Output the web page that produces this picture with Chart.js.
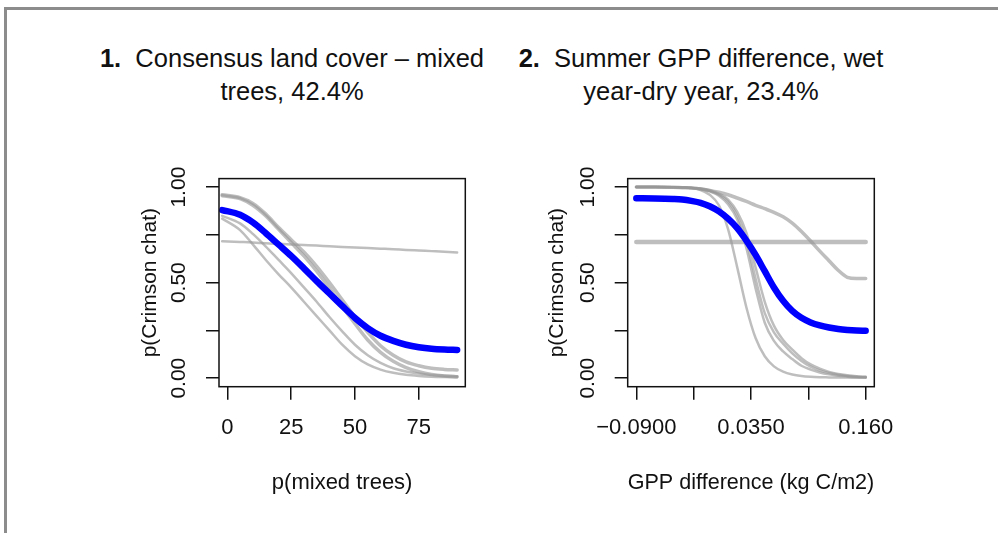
<!doctype html>
<html>
<head>
<meta charset="utf-8">
<title>p(Crimson chat)</title>
<script src="https://cdn.jsdelivr.net/npm/chart.js"></script>
<style>
  body { margin: 0; background: #fff; width: 998px; height: 533px; overflow: hidden; position: relative;
         font-family: "Liberation Sans", Arial, sans-serif; }
  .frame { position: absolute; left: 4px; top: 7px; width: 1000px; height: 600px;
           border-top: 3px solid #8c8c8c; border-left: 3px solid #8c8c8c; }
  .ttl { position: absolute; top: 42px; width: 500px; text-align: center; font-size: 25.5px;
         line-height: 33px; color: #111; white-space: pre; }
  canvas { position: absolute; top: 160px; }
</style>
</head>
<body>
<div class="frame"></div>
<div class="ttl" style="left:42px"><b>1.</b>  Consensus land cover – mixed<br>trees, 42.4%</div>
<div class="ttl" style="left:451px"><b>2.</b>  Summer GPP difference, wet<br>year-dry year, 23.4%</div>
<canvas id="panel1" width="390" height="350" style="left:110px"></canvas>
<canvas id="panel2" width="400" height="350" style="left:520px"></canvas>

<script>
// ---- panel 1 : p(mixed trees)
var x1 = [-2, 5, 10, 15, 20, 25, 30, 35, 40, 45, 50, 55, 60, 65, 70, 75, 80, 85, 90];
var blue1 = [0.880, 0.855, 0.815, 0.760, 0.700, 0.640, 0.575, 0.508, 0.443, 0.378, 0.315, 0.262, 0.222, 0.195, 0.175, 0.162, 0.154, 0.150, 0.148];
var flat1 = [0.717, 0.713, 0.710, 0.706, 0.703, 0.700, 0.697, 0.694, 0.690, 0.687, 0.684, 0.681, 0.678, 0.675, 0.671, 0.668, 0.665, 0.662, 0.658];
var grayB1 = [0.960, 0.945, 0.915, 0.860, 0.790, 0.725, 0.660, 0.585, 0.500, 0.410, 0.320, 0.240, 0.170, 0.120, 0.085, 0.065, 0.052, 0.046, 0.043];
var grayC1 = [0.955, 0.940, 0.905, 0.850, 0.780, 0.710, 0.640, 0.560, 0.470, 0.375, 0.285, 0.200, 0.135, 0.088, 0.055, 0.034, 0.020, 0.012, 0.008];
var grayD1 = [0.835, 0.775, 0.700, 0.620, 0.545, 0.475, 0.400, 0.325, 0.250, 0.175, 0.115, 0.072, 0.045, 0.028, 0.018, 0.012, 0.008, 0.006, 0.005];
var grayE1 = [0.850, 0.810, 0.755, 0.690, 0.620, 0.550, 0.475, 0.400, 0.320, 0.245, 0.175, 0.120, 0.080, 0.052, 0.035, 0.024, 0.017, 0.013, 0.010];
var xTicks1 = [0, 25, 50, 75];
var xLabels1 = ['0', '25', '50', '75'];

// ---- panel 2 : GPP difference
var x2 = [-0.09, -0.07, -0.05, -0.04, -0.03, -0.02, -0.01, 0, 0.01, 0.02, 0.03, 0.04, 0.05, 0.06, 0.07, 0.08, 0.09, 0.10, 0.11, 0.12, 0.13, 0.14, 0.15, 0.16];
var blue2 = [0.942, 0.941, 0.938, 0.935, 0.928, 0.918, 0.900, 0.873, 0.835, 0.785, 0.720, 0.645, 0.560, 0.475, 0.405, 0.352, 0.316, 0.292, 0.276, 0.265, 0.257, 0.252, 0.249, 0.248];
var flatX2 = [-0.09, 0.16];
var flat2 = [0.713, 0.713];
var topF2 = [1.000, 1.000, 0.999, 0.997, 0.995, 0.990, 0.983, 0.973, 0.960, 0.943, 0.925, 0.905, 0.887, 0.868, 0.845, 0.812, 0.768, 0.718, 0.665, 0.615, 0.565, 0.528, 0.522, 0.522];
var steep1 = [1.000, 1.000, 0.999, 0.998, 0.995, 0.985, 0.960, 0.905, 0.780, 0.580, 0.370, 0.210, 0.115, 0.062, 0.034, 0.019, 0.011, 0.007, 0.005, 0.004, 0.003, 0.003, 0.002, 0.002];
var steep2 = [1.000, 1.000, 0.999, 0.998, 0.996, 0.990, 0.978, 0.955, 0.910, 0.830, 0.680, 0.470, 0.290, 0.195, 0.140, 0.100, 0.065, 0.045, 0.030, 0.020, 0.013, 0.009, 0.006, 0.004];
var steep3 = [1.000, 1.000, 0.999, 0.998, 0.996, 0.991, 0.980, 0.960, 0.925, 0.850, 0.720, 0.520, 0.340, 0.240, 0.180, 0.130, 0.090, 0.060, 0.040, 0.027, 0.018, 0.012, 0.008, 0.006];
var steep4 = [1.000, 1.000, 0.999, 0.998, 0.997, 0.993, 0.984, 0.966, 0.935, 0.870, 0.760, 0.580, 0.400, 0.275, 0.200, 0.150, 0.105, 0.072, 0.050, 0.033, 0.022, 0.015, 0.010, 0.007];
var xTicks2 = [-0.09, -0.0275, 0.035, 0.0975, 0.16];
var xLabels2 = ['\u22120.0900', '', '0.0350', '', '0.160'];

var yTicks = [0, 0.25, 0.5, 0.75, 1];
var yLabels = ['0.00', '', '0.50', '', '1.00'];

var FONT = '"Liberation Sans", Arial, sans-serif';
var INK = '#111';

function pts(xs, ys) {
    return xs.map(function (x, i) { return { x: x, y: ys[i] }; });
}

function line(xs, ys, color, width) {
    return {
        data: pts(xs, ys),
        borderColor: color,
        borderWidth: width,
        borderCapStyle: 'round',
        pointRadius: 0,
        fill: false,
        cubicInterpolationMode: 'monotone'
    };
}

// box round the plot region, like R's box()
var boxPlugin = {
    id: 'box',
    afterDatasetsDraw: function (chart) {
        var a = chart.chartArea, ctx = chart.ctx;
        ctx.save();
        ctx.strokeStyle = INK;
        ctx.lineWidth = 1.5;
        ctx.strokeRect(a.left, a.top, a.right - a.left, a.bottom - a.top);
        ctx.restore();
    }
};

function panel(id, datasets, o) {
    return new Chart(document.getElementById(id).getContext('2d'), {
        type: 'line',
        data: { datasets: datasets },
        plugins: [boxPlugin],
        options: {
            responsive: false,
            animation: false,
            devicePixelRatio: 1,
            layout: { padding: { top: 14, right: o.padRight, left: 0, bottom: 0 } },
            plugins: { legend: { display: false }, tooltip: { enabled: false } },
            scales: {
                x: {
                    type: 'linear',
                    min: o.xMin,
                    max: o.xMax,
                    afterBuildTicks: function (s) { s.ticks = o.xTicks.map(function (v) { return { value: v }; }); },
                    afterFit: function (s) { s.height = 123.3; },
                    ticks: {
                        autoSkip: false, maxRotation: 0, minRotation: 0, padding: 15, color: INK,
                        font: { family: FONT, size: 22 },
                        callback: function (v, i) { return o.xLabels[i]; }
                    },
                    grid: { drawOnChartArea: false, drawTicks: true, tickLength: 13, color: INK, lineWidth: 1.5 },
                    border: { display: false },
                    title: { display: true, text: o.xTitle, color: INK, font: { family: FONT, size: 22 }, padding: { top: 0, bottom: 13.8 } }
                },
                y: {
                    min: -0.0446,
                    max: 1.0446,
                    afterBuildTicks: function (s) { s.ticks = yTicks.map(function (v) { return { value: v }; }); },
                    afterFit: function (s) { s.width = o.yWidth; },
                    ticks: {
                        autoSkip: false, minRotation: 90, maxRotation: 90, crossAlign: 'center', padding: 6, color: INK,
                        font: { family: FONT, size: 21 },
                        callback: function (v, i) { return yLabels[i]; }
                    },
                    grid: { drawOnChartArea: false, drawTicks: true, tickLength: 13, color: INK, lineWidth: 1.5 },
                    border: { display: false },
                    title: { display: true, text: 'p(Crimson chat)', color: INK, font: { family: FONT, size: 21 }, padding: { top: o.yTitlePad, bottom: 0 } }
                }
            }
        }
    });
}

var GRAY = 'rgba(150,150,150,0.62)';
var BLUE = '#0000ff';

panel('panel1', [
    line(x1, blue1, BLUE, 6.5),
    line(x1, flat1, GRAY, 2.5),
    line(x1, grayB1, GRAY, 3.5),
    line(x1, grayC1, GRAY, 3.5),
    line(x1, grayE1, GRAY, 2.5),
    line(x1, grayD1, GRAY, 2.5)
], {
    xMin: -3.25, xMax: 93.2, xTicks: xTicks1, xLabels: xLabels1,
    xTitle: 'p(mixed trees)', yWidth: 109, yTitlePad: 27.4, padRight: 34.7
});

panel('panel2', [
    line(x2, blue2, BLUE, 6.5),
    line(flatX2, flat2, GRAY, 4.5),
    line(x2, topF2, GRAY, 3.5),
    line(x2, steep1, GRAY, 2.5),
    line(x2, steep2, GRAY, 2.5),
    line(x2, steep3, GRAY, 2.5),
    line(x2, steep4, GRAY, 2.5)
], {
    xMin: -0.0994, xMax: 0.1694, xTicks: xTicks2, xLabels: xLabels2,
    xTitle: 'GPP difference (kg C/m2)', yWidth: 107.7, yTitlePad: 24.4, padRight: 45.7
});
</script>
</body>
</html>
